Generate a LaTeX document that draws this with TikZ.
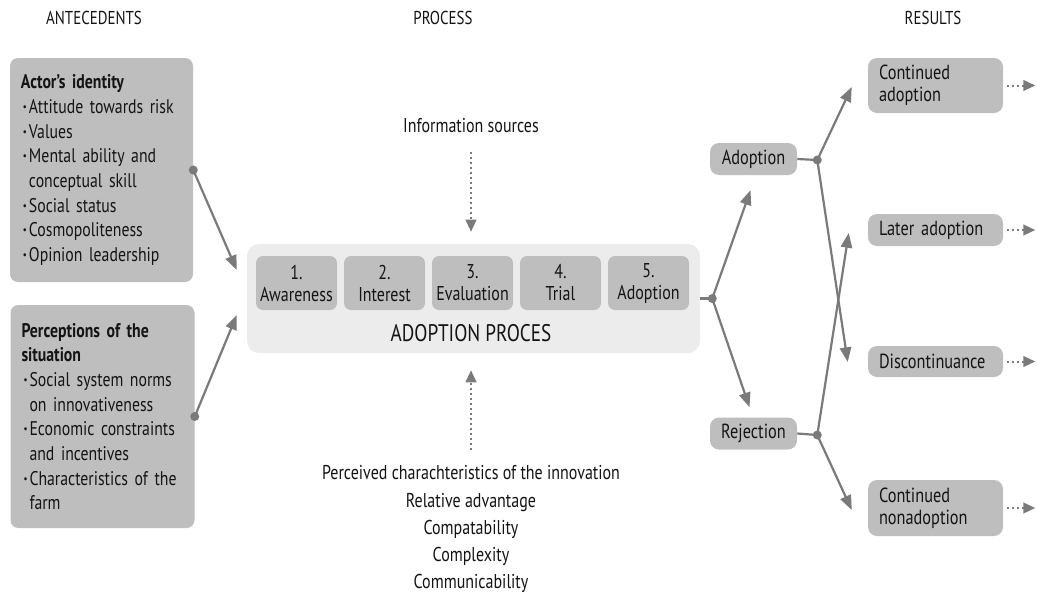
\documentclass[tikz,border=0pt]{standalone}
\usepackage{fontspec}
\setmainfont{PT Sans}[FakeStretch=0.8]
\usetikzlibrary{arrows.meta,calc}
\definecolor{boxg}{HTML}{BEBEBE}
\definecolor{bigg}{HTML}{ECECEC}
\definecolor{arrg}{HTML}{7A7A7A}
\definecolor{txt}{HTML}{141414}
\newdimen\pxu \pxu=0.75pt
\newcommand\bul{\hspace*{2\pxu}\makebox[6\pxu][l]{\textbf{·}}}
\newcommand\cont{\hspace*{8\pxu}}
\begin{document}
\begin{tikzpicture}[x=0.75pt,y=-0.75pt,
  hdr/.style={text=txt, inner sep=0, font=\fontsize{14}{16}\selectfont},
  lbox/.style={fill=boxg, rounded corners=6pt, text=txt, align=left, inner xsep=8.25pt, inner ysep=0,
     font=\fontsize{14.8}{18.5}\selectfont},
  bigbox/.style={fill=bigg, rounded corners=9pt, minimum width=339.75pt, minimum height=81.75pt, inner sep=0},
  stepbox/.style={fill=boxg, rounded corners=5.25pt, minimum width=60.75pt, minimum height=40.5pt, inner sep=0,
     text=txt, align=center, font=\fontsize{15}{16.5}\selectfont},
  mbox/.style={fill=boxg, rounded corners=6.75pt, minimum width=65.25pt, minimum height=24pt, inner sep=0,
     text=txt, font=\fontsize{15.3}{16.5}\selectfont},
  rbox/.style={fill=boxg, rounded corners=6.75pt, text width=84.75pt, inner xsep=8.25pt, inner ysep=0,
     text=txt, align=left, font=\fontsize{15.3}{16.5}\selectfont},
  ptext/.style={text=txt, inner sep=0, text height=10pt, text depth=3pt, font=\fontsize{15}{17}\selectfont},
  conn/.style={draw=arrg, line width=1.65pt, -{Triangle[length=11pt,width=8.5pt]}},
  plain/.style={draw=arrg, line width=1.65pt},
  dotarrow/.style={draw=arrg, line width=1.5pt, dash pattern=on 1.5pt off 2.25pt,
     -{Triangle[length=9pt,width=8pt]}},
  dotnode/.style={circle, fill=arrg, inner sep=0, minimum size=6.75pt}
]
\useasboundingbox (0,0) rectangle (1037,600);

% headers
\node[hdr] (hA) at (94,18) {ANTECEDENTS};
\node[hdr] (hP) at (443,18) {PROCESS};
\node[hdr] (hR) at (933,18) {RESULTS};

% left boxes
\node[lbox, text width=120.75pt, minimum height=168pt] (actor) at (101.5,170) {%
\textbf{Actor’s identity}\\
\bul Attitude towards risk\\
\bul Values\\
\bul Mental ability and\\
\cont conceptual skill\\
\bul Social status\\
\bul Cosmopoliteness\\
\bul Opinion leadership};
\node[lbox, text width=121.5pt, minimum height=167.25pt] (perc) at (102.5,416.5) {%
\textbf{Perceptions of the}\\
\textbf{situation}\\
\bul Social system norms\\
\cont on innovativeness\\
\bul Economic constraints\\
\cont and incentives\\
\bul Characteristics of the\\
\cont farm};

% process
\node[bigbox] (proc) at (473.5,298.5) {};
\node[stepbox] (s1) at (296.5,283) {1.\\Awareness};
\node[stepbox] (s2) at (384.5,283) {2.\\Interest};
\node[stepbox] (s3) at (472.5,283) {3.\\Evaluation};
\node[stepbox] (s4) at (560.5,283) {4.\\Trial};
\node[stepbox] (s5) at (648.5,283) {5.\\Adoption};
\node[text=txt, inner sep=0, font=\fontsize{18}{20}\selectfont] (ptitle) at (471,333) {ADOPTION PROCES};

\node[ptext] (info) at (471,128) {Information sources};
\node[ptext] (c0) at (471,475) {Perceived charachteristics of the innovation};
\node[ptext] (c1) at (471,503) {Relative advantage};
\node[ptext] (c2) at (471,530) {Compatability};
\node[ptext] (c3) at (471,557) {Complexity};
\node[ptext] (c4) at (471,584) {Communicability};

% right side
\node[mbox] (adop) at (753.5,159) {Adoption};
\node[mbox] (rej) at (753.5,433.5) {Rejection};
\node[rbox, minimum height=41.25pt] (ca) at (935.5,85.5) {Continued\\adoption};
\node[rbox, minimum height=24pt] (la) at (935.5,230) {Later adoption};
\node[rbox, minimum height=23.25pt] (dc) at (935.5,361.5) {Discontinuance};
\node[rbox, minimum height=42pt] (cn) at (935.5,508) {Continued\\nonadoption};

% coordinates
\coordinate (t1) at ($(proc.west)+(-10,-28.5)$);
\coordinate (t2) at ($(proc.west)+(-10,16.5)$);
\coordinate (dP) at ($(proc.east)+(12,0)$);
\coordinate (dA) at ($(adop.east)+(20,1)$);
\coordinate (dR) at ($(rej.east)+(20,1.5)$);
\coordinate (tA) at ($(adop.south)+(-3,15)$);
\coordinate (tR) at ($(rej.north)+(-4,-10)$);
\coordinate (tca) at ($(ca.west)+(-16,1.5)$);
\coordinate (tla) at ($(la.west)+(-19,3)$);
\coordinate (tdc) at ($(dc.west)+(-20,0.5)$);
\coordinate (tcn) at ($(cn.west)+(-16,2)$);
\coordinate (e1) at ($(ca.east)+(32,0)$);
\coordinate (e2) at ($(la.east)+(32,0)$);
\coordinate (e3) at ($(dc.east)+(32,0)$);
\coordinate (e4) at ($(cn.east)+(32,0)$);

% connectors
\draw[conn] (actor.east) -- (t1);
\draw[conn] (perc.east) -- (t2);
\draw[dotarrow, shorten <=11.25pt, shorten >=9pt] (info.south) -- (info.south |- proc.north);
\draw[dotarrow, shorten <=12pt, shorten >=12.75pt] (c0.north) -- (c0.north |- proc.south);
\draw[plain] (proc.east) -- (dP);
\draw[conn] (dP) -- (tA);
\draw[conn] (dP) -- (tR);
\draw[plain] (adop.east) -- (dA);
\draw[plain] (rej.east) -- (dR);
\draw[conn] (dA) -- (tca);
\draw[conn] (dA) -- (tdc);
\draw[conn] (dR) -- (tla);
\draw[conn] (dR) -- (tcn);
\draw[dotarrow, shorten <=3pt] (ca.east) -- (e1);
\draw[dotarrow, shorten <=3pt] (la.east) -- (e2);
\draw[dotarrow, shorten <=3pt] (dc.east) -- (e3);
\draw[dotarrow, shorten <=3pt] (cn.east) -- (e4);

% dots
\node[dotnode] (dot1) at (actor.east) {};
\node[dotnode] (dot2) at (perc.east) {};
\node[dotnode] (dotP) at (dP) {};
\node[dotnode] (dotA) at (dA) {};
\node[dotnode] (dotR) at (dR) {};
\end{tikzpicture}
\end{document}
